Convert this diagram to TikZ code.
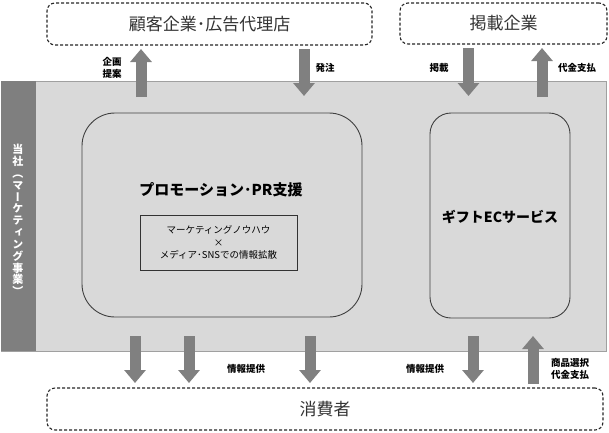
\documentclass[tikz,border=0pt]{standalone}
\usepackage{fontspec}
\usetikzlibrary{arrows.meta}
\newfontfamily\jpfont{Noto Sans CJK JP}
\newfontfamily\jpvfont[RawFeature=+vert]{Noto Sans CJK JP}
\definecolor{paneGray}{RGB}{217,217,217}
\definecolor{paneEdge}{RGB}{160,160,160}
\definecolor{barGray}{RGB}{127,127,127}
\definecolor{arrowGray}{RGB}{128,128,128}

\begin{document}
\begin{tikzpicture}[x=1pt,y=-1pt]

%
% Styles
%
\tikzstyle{every node} = [font=\jpfont,inner sep=0pt,outer sep=0pt]
\tikzstyle{party} = [rectangle,rounded corners=8pt,draw=black!85,line width=1.1pt,dash pattern=on 3pt off 2pt,fill=white,text=black!80,font=\jpfont\fontsize{17}{20}\selectfont]
\tikzstyle{service} = [rectangle,draw=black!75,line width=0.9pt,fill=paneGray]
\tikzstyle{flowlabel} = [align=center,font=\jpfont\bfseries\fontsize{9.5}{11.5}\selectfont]
\tikzstyle{fatarrow} = [draw=arrowGray,line width=11pt,-{Triangle[width=21pt,length=13pt]}]

\useasboundingbox (0,0) rectangle (609,432);

% company pane
\node[rectangle,fill=paneGray,draw=paneEdge,line width=1pt,minimum width=605pt,minimum height=270pt] (pane) at (303.5,216) {};
\node[rectangle,fill=barGray,minimum width=35pt,minimum height=270pt] (bar) at (18.5,216) {};
\node[align=center,text=white,font=\jpvfont\bfseries\fontsize{11}{11.85}\selectfont] (company) at (18,220)
  {当\\社\\（\\マ\\ー\\ケ\\テ\\ィ\\ン\\グ\\事\\業\\）};

% services
\node[service,rounded corners=33pt,minimum width=280pt,minimum height=204pt] (promo) at (222,215) {};
\node[font=\jpfont\bfseries\fontsize{15}{17}\selectfont] (promotitle) at (221,190) {プロモーション･PR支援};
\node[rectangle,draw=black!80,line width=0.8pt,minimum width=157pt,minimum height=55pt,align=center,
      font=\jpfont\fontsize{9.5}{12.5}\selectfont] (knowhow) at (218.5,242.5)
  {マーケティングノウハウ\\×\\メディア･SNSでの情報拡散};
\node[service,rounded corners=21pt,minimum width=140pt,minimum height=205pt] (gift) at (500,215.5) {};
\node[font=\jpfont\bfseries\fontsize{14}{17}\selectfont] (gifttitle) at (500,217) {ギフトECサービス};

% outside parties
\node[party,minimum width=325pt,minimum height=42pt] (client) at (209.5,24) {顧客企業･広告代理店};
\node[party,minimum width=207pt,minimum height=41pt] (media) at (503.5,23.5) {掲載企業};
\node[party,minimum width=556pt,minimum height=42pt] (consumer) at (325,409) {消費者};

% arrow anchors
\coordinate (t1) at (141,97);
\coordinate (t2) at (304,96);
\coordinate (t3) at (468.5,96);
\coordinate (t4) at (542,97);
\coordinate (b1) at (135,336);
\coordinate (b2) at (189,336);
\coordinate (b3) at (310,336);
\coordinate (b4) at (473,336);
\coordinate (b5) at (533,336);

\draw[fatarrow] (t1) -- ([yshift=-4pt]client.south -| t1);
\draw[fatarrow] ([yshift=-4pt]client.south -| t2) -- (t2);
\draw[fatarrow] ([yshift=-4pt]media.south -| t3) -- (t3);
\draw[fatarrow] (t4) -- ([yshift=-4pt]media.south -| t4);
\draw[fatarrow] (b1) -- ([yshift=5pt]consumer.north -| b1);
\draw[fatarrow] (b2) -- ([yshift=5pt]consumer.north -| b2);
\draw[fatarrow] (b3) -- ([yshift=5pt]consumer.north -| b3);
\draw[fatarrow] (b4) -- ([yshift=5pt]consumer.north -| b4);
\draw[fatarrow] ([yshift=4pt]consumer.north -| b5) -- (b5);

% labels
\node[flowlabel] (proposal) at (112,68) {企画\\提案};
\node[flowlabel] (order) at (325,68) {発注};
\node[flowlabel] (listing) at (439,68) {掲載};
\node[flowlabel] (fee) at (577,68) {代金支払};
\node[flowlabel] (info1) at (246,369) {情報提供};
\node[flowlabel] (info2) at (425,369) {情報提供};
\node[flowlabel] (purchase) at (570,369) {商品選択\\代金支払};

\end{tikzpicture}
\end{document}
